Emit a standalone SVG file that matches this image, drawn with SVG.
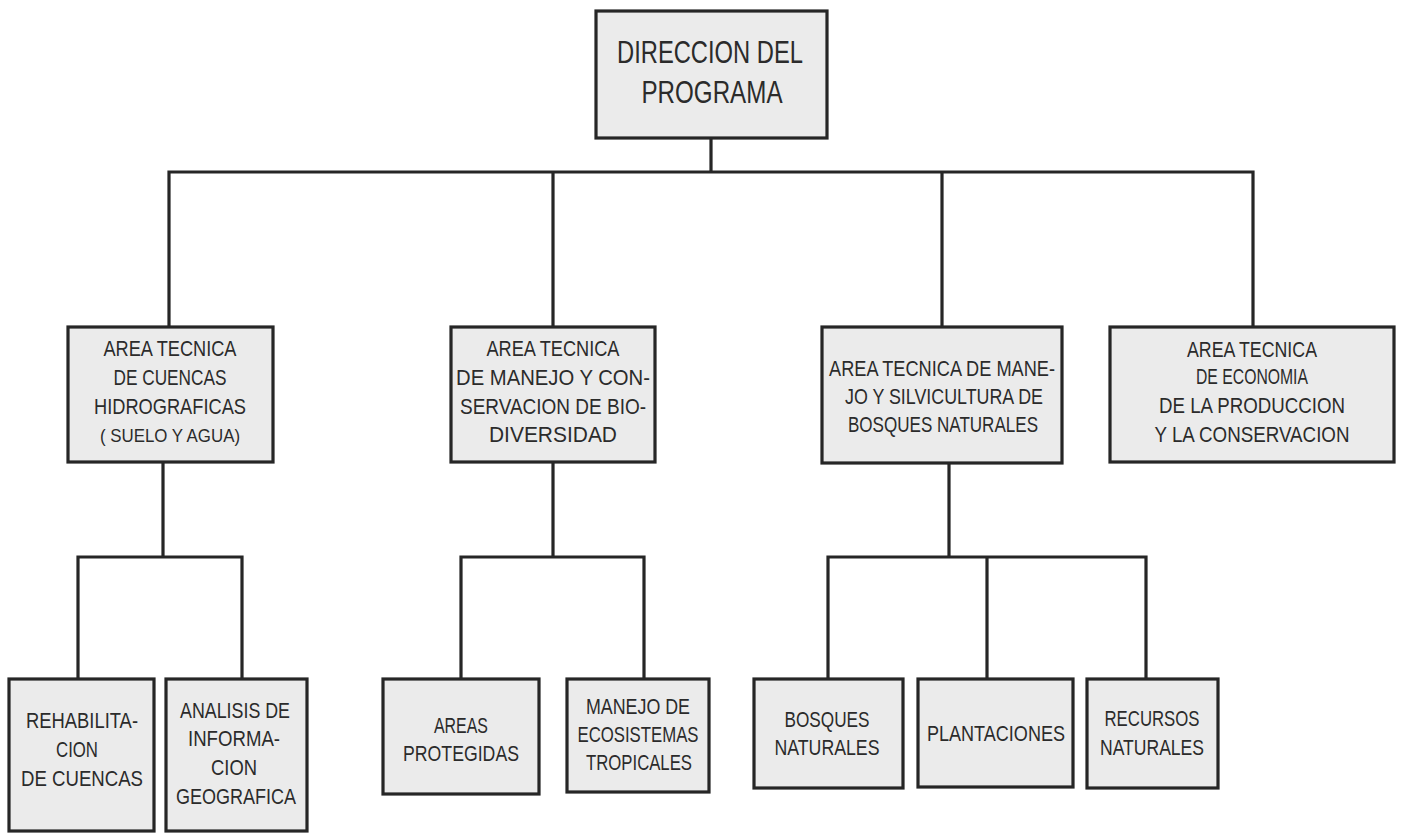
<svg xmlns="http://www.w3.org/2000/svg" width="1402" height="834" viewBox="0 0 1402 834">
<style>
.box{fill:#ebebeb;stroke:#262626;stroke-width:3.2}
.ln{fill:none;stroke:#262626;stroke-width:3.2;stroke-linecap:square}
.t{font-family:'Liberation Sans',Arial,sans-serif;font-size:22px;fill:#2b2b2b;text-anchor:middle}
.big{font-size:31px}
.sm{font-size:19px}
</style>
<rect width="1402" height="834" fill="#ffffff"/>
<g id="connectors">
<path class="ln" d="M711,138V172M169,172H1253M169,172V327M553,172V327M942,172V327M1253,172V327"/>
<path class="ln" d="M163,462V557M78,557H242M78,557V679M242,557V679"/>
<path class="ln" d="M553,462V557M461,557H644M461,557V679M644,557V679"/>
<path class="ln" d="M949,463V557M828,557H1146M828,557V679M987,557V679M1146,557V679"/>
</g>
<g id="direccion">
<rect class="box" x="596" y="11" width="231" height="127"/>
<text class="t big" x="710" y="63" textLength="186" lengthAdjust="spacingAndGlyphs">DIRECCION DEL</text>
<text class="t big" x="712" y="103" textLength="141" lengthAdjust="spacingAndGlyphs">PROGRAMA</text>
</g>
<g id="area-cuencas">
<rect class="box" x="68" y="327" width="205" height="135"/>
<text class="t" x="170" y="356" textLength="133" lengthAdjust="spacingAndGlyphs">AREA TECNICA</text>
<text class="t" x="170" y="385" textLength="113" lengthAdjust="spacingAndGlyphs">DE CUENCAS</text>
<text class="t" x="170" y="414" textLength="152" lengthAdjust="spacingAndGlyphs">HIDROGRAFICAS</text>
<text class="t sm" x="170" y="442" textLength="140" lengthAdjust="spacingAndGlyphs">( SUELO Y AGUA)</text>
</g>
<g id="area-biodiversidad">
<rect class="box" x="451" y="327" width="204" height="135"/>
<text class="t" x="553" y="356" textLength="133" lengthAdjust="spacingAndGlyphs">AREA TECNICA</text>
<text class="t" x="553" y="385" textLength="194" lengthAdjust="spacingAndGlyphs">DE MANEJO Y CON-</text>
<text class="t" x="553" y="414" textLength="186" lengthAdjust="spacingAndGlyphs">SERVACION DE BIO-</text>
<text class="t" x="553" y="442" textLength="128" lengthAdjust="spacingAndGlyphs">DIVERSIDAD</text>
</g>
<g id="area-bosques">
<rect class="box" x="822" y="327" width="240" height="136"/>
<text class="t" x="942" y="376" textLength="226" lengthAdjust="spacingAndGlyphs">AREA TECNICA DE MANE-</text>
<text class="t" x="944" y="404" textLength="198" lengthAdjust="spacingAndGlyphs">JO Y SILVICULTURA DE</text>
<text class="t" x="943" y="432" textLength="190" lengthAdjust="spacingAndGlyphs">BOSQUES NATURALES</text>
</g>
<g id="area-economia">
<rect class="box" x="1110" y="327" width="284" height="135"/>
<text class="t" x="1252" y="357" textLength="130" lengthAdjust="spacingAndGlyphs">AREA TECNICA</text>
<text class="t" x="1252" y="384" textLength="112" lengthAdjust="spacingAndGlyphs">DE ECONOMIA</text>
<text class="t" x="1252" y="413" textLength="186" lengthAdjust="spacingAndGlyphs">DE LA PRODUCCION</text>
<text class="t" x="1252" y="442" textLength="195" lengthAdjust="spacingAndGlyphs">Y LA CONSERVACION</text>
</g>
<g id="rehabilitacion">
<rect class="box" x="9" y="679" width="145" height="152"/>
<text class="t" x="82" y="728" textLength="112" lengthAdjust="spacingAndGlyphs">REHABILITA-</text>
<text class="t" x="77" y="757" textLength="42" lengthAdjust="spacingAndGlyphs">CION</text>
<text class="t" x="82" y="786" textLength="122" lengthAdjust="spacingAndGlyphs">DE CUENCAS</text>
</g>
<g id="analisis">
<rect class="box" x="166" y="679" width="141" height="152"/>
<text class="t" x="235" y="718" textLength="110" lengthAdjust="spacingAndGlyphs">ANALISIS DE</text>
<text class="t" x="234" y="746" textLength="92" lengthAdjust="spacingAndGlyphs">INFORMA-</text>
<text class="t" x="234" y="775" textLength="46" lengthAdjust="spacingAndGlyphs">CION</text>
<text class="t" x="236" y="804" textLength="120" lengthAdjust="spacingAndGlyphs">GEOGRAFICA</text>
</g>
<g id="areas-protegidas">
<rect class="box" x="383" y="679" width="156" height="115"/>
<text class="t" x="461" y="733" textLength="54" lengthAdjust="spacingAndGlyphs">AREAS</text>
<text class="t" x="461" y="761" textLength="116" lengthAdjust="spacingAndGlyphs">PROTEGIDAS</text>
</g>
<g id="manejo-ecosistemas">
<rect class="box" x="567" y="679" width="142" height="113"/>
<text class="t" x="638" y="714" textLength="104" lengthAdjust="spacingAndGlyphs">MANEJO DE</text>
<text class="t" x="638" y="742" textLength="121" lengthAdjust="spacingAndGlyphs">ECOSISTEMAS</text>
<text class="t" x="639" y="770" textLength="106" lengthAdjust="spacingAndGlyphs">TROPICALES</text>
</g>
<g id="bosques-naturales">
<rect class="box" x="754" y="679" width="149" height="109"/>
<text class="t" x="827" y="727" textLength="85" lengthAdjust="spacingAndGlyphs">BOSQUES</text>
<text class="t" x="827" y="755" textLength="105" lengthAdjust="spacingAndGlyphs">NATURALES</text>
</g>
<g id="plantaciones">
<rect class="box" x="918" y="679" width="155" height="108"/>
<text class="t" x="996" y="741" textLength="138" lengthAdjust="spacingAndGlyphs">PLANTACIONES</text>
</g>
<g id="recursos-naturales">
<rect class="box" x="1087" y="679" width="131" height="109"/>
<text class="t" x="1152" y="726" textLength="95" lengthAdjust="spacingAndGlyphs">RECURSOS</text>
<text class="t" x="1152" y="755" textLength="104" lengthAdjust="spacingAndGlyphs">NATURALES</text>
</g>
</svg>
